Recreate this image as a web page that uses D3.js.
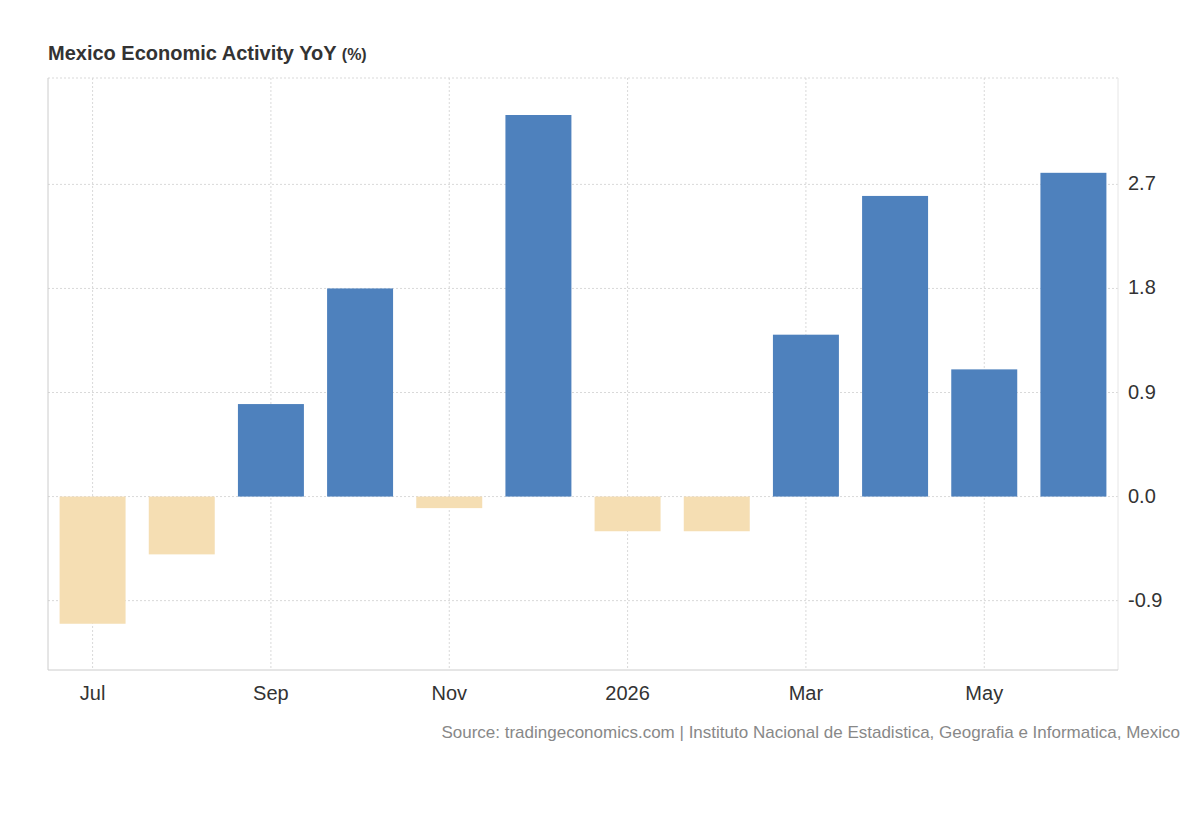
<!DOCTYPE html>
<html><head><meta charset="utf-8">
<script src="https://cdn.jsdelivr.net/npm/d3@7"></script>
<style>body{margin:0;background:#fff;font-family:Arial,"Liberation Sans",sans-serif}</style>
</head><body><svg id="c" width="1200" height="820"></svg>
<script>
const months=["Jul","Aug","Sep","Oct","Nov","Dec","2026","Feb","Mar","Apr","May","Jun"];
const values=[-1.1,-0.5,0.8,1.8,-0.1,3.3,-0.3,-0.3,1.4,2.6,1.1,2.8];
const xTickLabels=["Jul","Sep","Nov","2026","Mar","May"];
const yTicks=[-0.9,0,0.9,1.8,2.7];
const svg=d3.select("#c");
const L=48,R=1118,T=78,B=670;
const x=d3.scaleBand().domain(months).range([L,R]).paddingInner(0.26).paddingOuter(0.13);
const y=d3.scaleLinear().domain([-1.5,3.62]).range([B,T]);
const g=svg.append("g");
yTicks.forEach(t=>g.append("line").attr("x1",L).attr("x2",R).attr("y1",y(t)).attr("y2",y(t)).attr("stroke","#d9d9d9").attr("stroke-dasharray","2,2"));
g.append("line").attr("x1",L).attr("x2",R).attr("y1",T).attr("y2",T).attr("stroke","#d9d9d9").attr("stroke-dasharray","2,2");
xTickLabels.forEach(m=>{const cx=x(m)+x.bandwidth()/2;
 g.append("line").attr("x1",cx).attr("x2",cx).attr("y1",T).attr("y2",B).attr("stroke","#d9d9d9").attr("stroke-dasharray","2,2");
 g.append("text").attr("x",cx).attr("y",700).attr("text-anchor","middle").attr("font-size",20).attr("fill","#333").text(m);});
g.append("line").attr("x1",R).attr("x2",R).attr("y1",T).attr("y2",B).attr("stroke","#e6e6e6");
g.selectAll("rect").data(values).join("rect")
 .attr("x",(d,i)=>x(months[i])).attr("width",x.bandwidth())
 .attr("y",d=>y(Math.max(0,d))).attr("height",d=>Math.abs(y(d)-y(0)))
 .attr("fill",d=>d>=0?"#4e81bd":"#f5deb3");
g.append("line").attr("x1",L).attr("x2",L).attr("y1",T).attr("y2",B).attr("stroke","#ccc");
g.append("line").attr("x1",L).attr("x2",R).attr("y1",B).attr("y2",B).attr("stroke","#ccc");
yTicks.forEach(t=>g.append("text").attr("x",1128).attr("y",y(t)+6).attr("font-size",20).attr("fill","#333").text(t.toFixed(1)));
svg.append("text").attr("x",48).attr("y",60).attr("font-size",20).attr("font-weight","bold").attr("fill","#333")
 .text("Mexico Economic Activity YoY ").append("tspan").attr("font-size",16).text("(%)");
svg.append("text").attr("x",1180).attr("y",738).attr("text-anchor","end").attr("font-size",17).attr("fill","#888")
 .text("Source: tradingeconomics.com | Instituto Nacional de Estadistica, Geografia e Informatica, Mexico");
</script></body></html>
